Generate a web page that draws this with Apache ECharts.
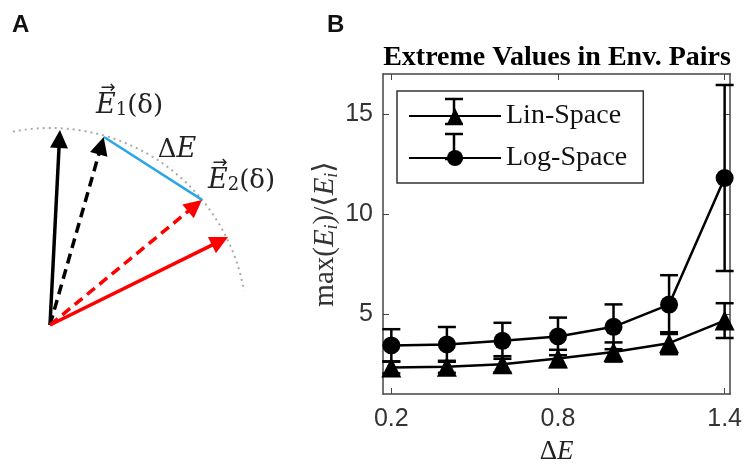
<!DOCTYPE html>
<html>
<head>
<meta charset="utf-8">
<script src="https://cdn.jsdelivr.net/npm/echarts@6/dist/echarts.min.js"></script>
<style>
html, body { margin: 0; padding: 0; background: #fff; }
#chart { width: 745px; height: 470px; }
</style>
</head>
<body>
<div id="chart"></div>
<script>
// panel B data
var deltaE = [0.2, 0.4, 0.6, 0.8, 1.0, 1.2, 1.4];
var linMean = [2.33, 2.36, 2.49, 2.78, 3.10, 3.54, 4.67];
var linErr = [0.3, 0.3, 0.4, 0.43, 0.48, 0.55, 0.87];
var logMean = [3.43, 3.48, 3.66, 3.88, 4.36, 5.47, 11.8];
var logErr = [0.81, 0.87, 0.9, 0.94, 1.12, 1.47, 4.65];
var xTicks = [0.2, 0.8, 1.4];
var yTicks = [5, 10, 15];

// panel A vectors (unit circle, origin at the tail)
var solidTips = [[0.048, 0.944], [0.863, 0.426]];
var solidColors = ['#000', '#ff0000'];
var dashedTips = [[0.26, 0.91], [0.736, 0.606]];
var dashedColors = ['#000', '#ff0000'];
var chord = [[0.274, 0.954], [0.772, 0.635]];

var serif = '"Liberation Serif", "DejaVu Serif", serif';
var sans = '"Liberation Sans", Arial, sans-serif';
var axisCol = '#444';

var myChart = echarts.init(document.getElementById('chart'));

function toPairs(xs, ys) {
	return xs.map(function (x, i) { return [x, ys[i]]; });
}

function errData(mean, err) {
	return deltaE.map(function (x, i) {
		return [x, mean[i] - err[i], mean[i] + err[i]];
	});
}

function errBar(x, y1, y2, w) {
	var st = { stroke: '#000', lineWidth: 2.5 };
	return [
		{ type: 'line', shape: { x1: x, y1: y1, x2: x, y2: y2 }, style: st },
		{ type: 'line', shape: { x1: x - w, y1: y1, x2: x + w, y2: y1 }, style: st },
		{ type: 'line', shape: { x1: x - w, y1: y2, x2: x + w, y2: y2 }, style: st }
	];
}

function renderErr(params, api) {
	var lo = api.coord([api.value(0), api.value(1)]);
	var hi = api.coord([api.value(0), api.value(2)]);
	return { type: 'group', children: errBar(lo[0], lo[1], hi[1], 9) };
}

function vecLines(tips, colors) {
	return tips.map(function (t, i) {
		return { coords: [[0, 0], t], lineStyle: { color: colors[i] } };
	});
}

var hiddenAxis = { show: false };

var option = {
	animation: false,
	title: {
		text: 'Extreme Values in Env. Pairs',
		left: 557,
		top: 44,
		padding: 0,
		textAlign: 'center',
		textStyle: { fontFamily: serif, fontSize: 28, fontWeight: 'bold', color: '#000' }
	},
	legend: {
		data: ['Lin-Space', 'Log-Space'],
		orient: 'vertical',
		left: 397,
		top: 91,
		padding: [11, 16, 11, 11],
		itemGap: 14,
		itemWidth: 92,
		itemHeight: 20,
		borderColor: '#333',
		borderWidth: 1.5,
		textStyle: { fontFamily: serif, fontSize: 28, color: '#111' }
	},
	grid: [
		{ left: 10.6, top: 88.6, width: 275.8, height: 295.5 },
		{ left: 383, top: 74, width: 349, height: 330 }
	],
	xAxis: [
		Object.assign({ gridIndex: 0, type: 'value', min: -0.2, max: 1.2 }, hiddenAxis),
		{
			gridIndex: 1, type: 'value', min: 0.17, max: 1.42, position: 'bottom',
			axisLine: { lineStyle: { color: axisCol, width: 1.5 } },
			axisTick: { inside: true, length: 6, customValues: xTicks, lineStyle: { color: axisCol } },
			axisLabel: { customValues: xTicks, fontFamily: sans, fontSize: 25, color: '#333', margin: 13 },
			splitLine: { show: false },
			name: '{n|Δ}{i|E}',
			nameLocation: 'middle',
			nameGap: 44,
			nameTextStyle: {
				rich: {
					n: { fontFamily: serif, fontSize: 27, color: '#222' },
					i: { fontFamily: serif, fontSize: 27, fontStyle: 'italic', color: '#222' }
				}
			}
		},
		{
			gridIndex: 1, type: 'value', min: 0.17, max: 1.42, position: 'top',
			axisLine: { lineStyle: { color: axisCol, width: 1.5 } },
			axisTick: { inside: true, length: 6, customValues: xTicks, lineStyle: { color: axisCol } },
			axisLabel: { show: false },
			splitLine: { show: false }
		}
	],
	yAxis: [
		Object.assign({ gridIndex: 0, type: 'value', min: -0.3, max: 1.2 }, hiddenAxis),
		{
			gridIndex: 1, type: 'value', min: 1, max: 17, position: 'left',
			axisLine: { show: true, lineStyle: { color: axisCol, width: 1.5 } },
			axisTick: { show: true, inside: true, length: 6, customValues: yTicks, lineStyle: { color: axisCol } },
			axisLabel: { customValues: yTicks, fontFamily: sans, fontSize: 25, color: '#333', margin: 10 },
			splitLine: { show: false },
			name: '{n|max(}{i|E}{s|i}{n|)/⟨}{i|E}{s|i}{n|⟩}',
			nameLocation: 'middle',
			nameRotate: 90,
			nameGap: 42,
			nameTextStyle: {
				rich: {
					n: { fontFamily: serif, fontSize: 29, color: '#333', lineHeight: 32 },
					i: { fontFamily: serif, fontSize: 29, fontStyle: 'italic', color: '#333', lineHeight: 32 },
					s: { fontFamily: serif, fontSize: 18, fontStyle: 'italic', color: '#333', verticalAlign: 'bottom', lineHeight: 24 }
				}
			}
		},
		{
			gridIndex: 1, type: 'value', min: 1, max: 17, position: 'right',
			axisLine: { show: true, lineStyle: { color: axisCol, width: 1.5 } },
			axisTick: { show: true, inside: true, length: 6, customValues: yTicks, lineStyle: { color: axisCol } },
			axisLabel: { show: false },
			splitLine: { show: false }
		}
	],
	series: [
		{
			name: 'chord', type: 'lines', coordinateSystem: 'cartesian2d',
			xAxisIndex: 0, yAxisIndex: 0, symbol: 'none',
			lineStyle: { color: '#2aa6e6', width: 2.5, opacity: 1 },
			data: [{ coords: chord }]
		},
		{
			name: 'solid vectors', type: 'lines', coordinateSystem: 'cartesian2d',
			xAxisIndex: 0, yAxisIndex: 0,
			symbol: ['none', 'triangle'], symbolSize: [15, 18],
			lineStyle: { width: 3.5, opacity: 1 },
			data: vecLines(solidTips, solidColors)
		},
		{
			name: 'dashed vectors', type: 'lines', coordinateSystem: 'cartesian2d',
			xAxisIndex: 0, yAxisIndex: 0,
			symbol: ['none', 'triangle'], symbolSize: [15, 18],
			lineStyle: { width: 3.5, type: [10, 6], opacity: 1 },
			data: vecLines(dashedTips, dashedColors)
		},
		{
			name: 'lin err', type: 'custom', xAxisIndex: 1, yAxisIndex: 1,
			renderItem: renderErr, clip: false,
			encode: { x: 0, y: [1, 2] },
			data: errData(linMean, linErr)
		},
		{
			name: 'log err', type: 'custom', xAxisIndex: 1, yAxisIndex: 1,
			renderItem: renderErr, clip: false,
			encode: { x: 0, y: [1, 2] },
			data: errData(logMean, logErr)
		},
		{
			name: 'Lin-Space', type: 'line', xAxisIndex: 1, yAxisIndex: 1,
			symbol: 'triangle', symbolSize: 20,
			lineStyle: { color: '#000', width: 2.5 },
			itemStyle: { color: '#000' },
			data: toPairs(deltaE, linMean)
		},
		{
			name: 'Log-Space', type: 'line', xAxisIndex: 1, yAxisIndex: 1,
			symbol: 'circle', symbolSize: 18,
			lineStyle: { color: '#000', width: 2.5 },
			itemStyle: { color: '#000' },
			data: toPairs(deltaE, logMean)
		}
	]
};

myChart.setOption(option);

// dotted guide arc, legend error caps and the panel labels
var o = myChart.convertToPixel({ gridIndex: 0 }, [0, 0]);
var p = myChart.convertToPixel({ gridIndex: 0 }, [1, 0]);
var r = p[0] - o[0];

var vecRich = {
	e: { fontFamily: '"DejaVu Serif", serif', fontSize: 27, fontStyle: 'italic', fill: '#222' },
	s: { fontFamily: '"DejaVu Serif", serif', fontSize: 18, fill: '#222', verticalAlign: 'bottom' },
	n: { fontFamily: '"DejaVu Serif", serif', fontSize: 26, fill: '#222' }
};
var arrowFont = '18px "DejaVu Sans", sans-serif';

myChart.setOption({
	graphic: [
		{
			type: 'arc', z: 0,
			shape: { cx: o[0], cy: o[1], r: r, startAngle: -1.76, endAngle: -0.175, clockwise: true },
			style: { stroke: '#aaa', lineWidth: 2, lineDash: [2, 4], fill: null }
		},
		{ type: 'group', z: 100, children: errBar(454, 99, 124, 9) },
		{ type: 'group', z: 100, children: errBar(454, 134, 159, 9) },
		{
			type: 'text', left: 12, top: 13,
			style: { text: 'A', font: 'bold 24px ' + sans, fill: '#111' }
		},
		{
			type: 'text', left: 327, top: 13,
			style: { text: 'B', font: 'bold 24px ' + sans, fill: '#111' }
		},
		{
			type: 'text', x: 96, y: 106,
			style: { text: '{e|E}{s|1}{n|(δ)}', rich: vecRich, align: 'left', verticalAlign: 'middle' }
		},
		{
			type: 'text', x: 108, y: 88,
			style: { text: '→', font: arrowFont, fill: '#222', align: 'center', verticalAlign: 'middle' }
		},
		{
			type: 'text', x: 177, y: 150,
			style: { text: '{n|Δ}{e|E}', rich: vecRich, align: 'center', verticalAlign: 'middle' }
		},
		{
			type: 'text', x: 208, y: 181,
			style: { text: '{e|E}{s|2}{n|(δ)}', rich: vecRich, align: 'left', verticalAlign: 'middle' }
		},
		{
			type: 'text', x: 220, y: 163,
			style: { text: '→', font: arrowFont, fill: '#222', align: 'center', verticalAlign: 'middle' }
		}
	]
});
</script>
</body>
</html>
